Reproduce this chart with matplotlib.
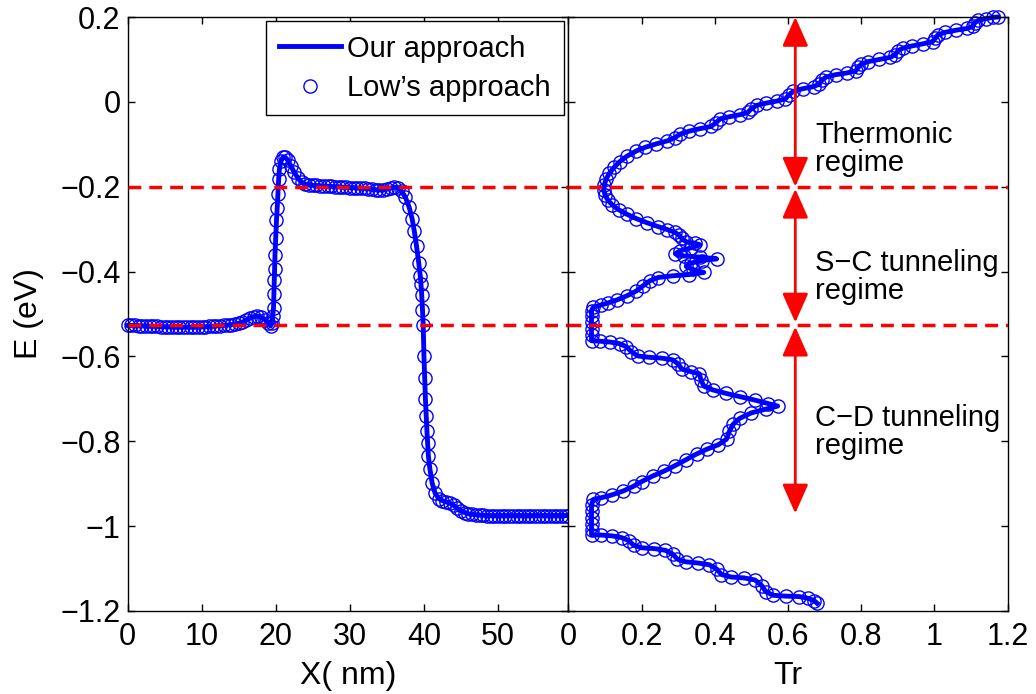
import matplotlib.pyplot as plt

plt.rcParams['font.family'] = ['Liberation Sans', 'DejaVu Sans']

# left panel: conduction band profile E(x)
x_nm = [0, 0.5, 1, 1.5, 2, 2.5, 3, 3.5, 4, 4.5, 5, 5.5, 6, 6.5, 7, 7.5, 8, 8.5, 9, 9.5,
        10, 10.5, 11, 11.5, 12, 12.5, 13, 13.5, 14, 14.5, 15, 15.5, 16, 16.5, 17, 17.5,
        18, 18.5, 19, 19.3, 19.5, 19.6, 19.7, 19.75, 19.8, 19.85, 19.9, 20.0, 20.1, 20.2,
        20.3, 20.4, 20.5, 20.7, 21.0, 21.3, 21.6, 22.0, 22.5, 23.0, 23.5, 24.0, 24.5, 25.0,
        25.5, 26, 26.5, 27, 27.5, 28, 28.5, 29, 29.5, 30, 30.5, 31, 31.5, 32, 32.5, 33,
        33.5, 34, 34.5, 35, 35.5, 36, 36.5, 37, 37.5, 38, 38.4, 38.7, 39.0, 39.3, 39.5,
        39.6, 39.7, 39.8, 39.9, 40.0, 40.1, 40.2, 40.3, 40.4, 40.5, 40.6, 40.8, 41.1, 41.5,
        42.0, 42.5, 43.0, 43.5, 44.0, 44.5, 45.0, 45.5, 46, 46.5, 47, 47.5, 48, 48.5, 49,
        49.5, 50, 50.5, 51, 51.5, 52, 52.5, 53, 53.5, 54, 54.5, 55, 55.5, 56, 56.5, 57,
        57.5, 58, 58.5, 59, 59.5]
e_band = [-0.527, -0.527, -0.527, -0.528, -0.528, -0.528, -0.529, -0.529, -0.529, -0.530,
          -0.530, -0.530, -0.530, -0.531, -0.531, -0.531, -0.531, -0.531, -0.531, -0.530,
          -0.530, -0.530, -0.529, -0.529, -0.528, -0.528, -0.527, -0.526, -0.525, -0.524,
          -0.522, -0.519, -0.515, -0.510, -0.506, -0.505, -0.507, -0.513, -0.522, -0.528,
          -0.522, -0.505, -0.485, -0.452, -0.420, -0.393, -0.360, -0.320, -0.279, -0.250,
          -0.216, -0.181, -0.158, -0.140, -0.130, -0.131, -0.137, -0.150, -0.166, -0.180,
          -0.189, -0.194, -0.196, -0.197, -0.197, -0.198, -0.198, -0.199, -0.199, -0.200,
          -0.200, -0.201, -0.201, -0.202, -0.202, -0.203, -0.203, -0.204, -0.205, -0.206,
          -0.207, -0.208, -0.208, -0.206, -0.203, -0.201, -0.203, -0.211, -0.225, -0.248,
          -0.275, -0.305, -0.340, -0.380, -0.410, -0.430, -0.455, -0.490, -0.525, -0.600,
          -0.650, -0.700, -0.740, -0.775, -0.805, -0.835, -0.865, -0.898, -0.922, -0.935,
          -0.940, -0.943, -0.946, -0.951, -0.958, -0.964, -0.968, -0.971, -0.972, -0.973,
          -0.974, -0.974, -0.975, -0.975, -0.975, -0.975, -0.975, -0.975, -0.975, -0.975,
          -0.975, -0.975, -0.975, -0.975, -0.975, -0.975, -0.975, -0.975, -0.975, -0.975,
          -0.975, -0.975, -0.975, -0.975, -0.975]

# right panel: transmission Tr(E)
tr = [1.175, 1.160, 1.140, 1.120, 1.110, 1.105, 1.090, 1.060, 1.030, 1.010, 1.003, 0.995,
      0.970, 0.940, 0.915, 0.900, 0.893, 0.880, 0.850, 0.820, 0.800, 0.792, 0.785, 0.760,
      0.730, 0.705, 0.692, 0.686, 0.670, 0.640, 0.615, 0.602, 0.593, 0.570, 0.540, 0.515,
      0.500, 0.490, 0.470, 0.440, 0.415, 0.403, 0.390, 0.360, 0.330, 0.305, 0.290, 0.270,
      0.240, 0.210, 0.185, 0.160, 0.140, 0.125, 0.112, 0.103, 0.098, 0.097, 0.100, 0.108,
      0.120, 0.137, 0.160, 0.185, 0.215, 0.245, 0.270, 0.290, 0.302, 0.310, 0.322, 0.345,
      0.360, 0.335, 0.305, 0.292, 0.315, 0.360, 0.405, 0.365, 0.335, 0.322, 0.340, 0.370,
      0.330, 0.285, 0.245, 0.222, 0.203, 0.185, 0.160, 0.132, 0.108, 0.088, 0.068, 0.063,
      0.063, 0.063, 0.063, 0.063, 0.063, 0.085, 0.113, 0.140, 0.158, 0.172, 0.190, 0.220,
      0.255, 0.285, 0.300, 0.310, 0.335, 0.358, 0.362, 0.370, 0.395, 0.430, 0.470, 0.510,
      0.545, 0.572, 0.540, 0.500, 0.468, 0.450, 0.440, 0.432, 0.410, 0.380, 0.350, 0.320,
      0.290, 0.262, 0.230, 0.200, 0.178, 0.150, 0.120, 0.090, 0.068, 0.063, 0.063, 0.063,
      0.063, 0.063, 0.063, 0.090, 0.120, 0.145, 0.165, 0.178, 0.200, 0.235, 0.265, 0.285,
      0.298, 0.320, 0.355, 0.385, 0.405, 0.418, 0.445, 0.480, 0.510, 0.528, 0.540, 0.560,
      0.595, 0.630, 0.655, 0.672, 0.680]
e_tr = [0.200, 0.199, 0.196, 0.192, 0.186, 0.178, 0.173, 0.169, 0.164, 0.158, 0.150, 0.142,
        0.137, 0.132, 0.127, 0.120, 0.111, 0.105, 0.100, 0.095, 0.089, 0.081, 0.073, 0.068,
        0.064, 0.059, 0.051, 0.042, 0.036, 0.031, 0.025, 0.016, 0.007, 0.002, -0.003, -0.008,
        -0.016, -0.025, -0.030, -0.035, -0.040, -0.049, -0.058, -0.063, -0.069, -0.076,
        -0.085, -0.092, -0.099, -0.107, -0.116, -0.128, -0.141, -0.154, -0.168, -0.182,
        -0.196, -0.208, -0.220, -0.232, -0.243, -0.254, -0.265, -0.275, -0.285, -0.294,
        -0.301, -0.307, -0.314, -0.322, -0.330, -0.333, -0.337, -0.344, -0.351, -0.358,
        -0.363, -0.366, -0.370, -0.374, -0.380, -0.388, -0.395, -0.402, -0.407, -0.410,
        -0.414, -0.422, -0.434, -0.446, -0.457, -0.467, -0.474, -0.479, -0.484, -0.492,
        -0.505, -0.520, -0.535, -0.550, -0.563, -0.564, -0.566, -0.570, -0.577, -0.589,
        -0.599, -0.602, -0.604, -0.608, -0.618, -0.630, -0.636, -0.641, -0.655, -0.670,
        -0.679, -0.687, -0.695, -0.703, -0.711, -0.717, -0.724, -0.733, -0.746, -0.760,
        -0.776, -0.795, -0.808, -0.818, -0.830, -0.844, -0.858, -0.870, -0.882, -0.895,
        -0.906, -0.917, -0.926, -0.933, -0.937, -0.950, -0.965, -0.980, -0.995, -1.010,
        -1.020, -1.021, -1.023, -1.027, -1.034, -1.045, -1.051, -1.053, -1.057, -1.066,
        -1.078, -1.084, -1.087, -1.091, -1.101, -1.114, -1.120, -1.122, -1.127, -1.140,
        -1.155, -1.163, -1.165, -1.166, -1.170, -1.176, -1.182]

# regime boundaries and labels
e_levels = [-0.2, -0.525]
regime_spans = [(0.2, -0.2), (-0.205, -0.52), (-0.53, -0.97)]
regime_text = ['Thermonic\nregime', 'S\u2212C tunneling\nregime', 'C\u2212D tunneling\nregime']
regime_text_y = [-0.112, -0.413, -0.779]

y_ticks = [0.2, 0, -0.2, -0.4, -0.6, -0.8, -1, -1.2]
y_labels = ['0.2', '0', '\u22120.2', '\u22120.4', '\u22120.6', '\u22120.8', '\u22121', '\u22121.2']
tr_ticks = [0, 0.2, 0.4, 0.6, 0.8, 1, 1.2]
tr_labels = ['0', '0.2', '0.4', '0.6', '0.8', '1', '1.2']

fig = plt.figure(figsize=(10.36, 6.94), dpi=100)
ax1 = fig.add_axes([0.1231, 0.1196, 0.4256, 0.8559])
ax2 = fig.add_axes([0.5487, 0.1196, 0.4238, 0.8559])

dash = (0, (3.7, 2.3))

ax1.plot(x_nm, e_band, '-', color='blue', lw=3.5, label='Our approach', clip_on=False)
ax1.plot(x_nm, e_band, 'o', mfc='none', mec='blue', ms=9.5, mew=1,
         label='Low\u2019s approach', clip_on=False)
ax2.plot(tr, e_tr, '-', color='blue', lw=3.5, clip_on=False)
ax2.plot(tr, e_tr, 'o', mfc='none', mec='blue', ms=9.5, mew=1, clip_on=False)

for ax in (ax1, ax2):
    for lev in e_levels:
        ax.axhline(lev, color='red', ls=dash, lw=2.5, zorder=3)
    ax.set_ylim(-1.2, 0.2)
    ax.set_yticks(y_ticks)
    ax.tick_params(direction='in', length=5, width=1, top=True, right=True,
                   labelsize=22)
    ax.tick_params(axis='x', pad=8)
    ax.tick_params(axis='y', pad=5)
    for s in ax.spines.values():
        s.set_linewidth(1)

ax1.set_xlim(0, 59.5)
ax1.set_xticks([0, 10, 20, 30, 40, 50])
ax1.set_yticklabels(y_labels)
ax1.set_xlabel('X( nm)', fontsize=23)
ax1.set_ylabel('E (eV)', fontsize=23)
ax1.xaxis.set_label_coords(0.5, -0.085)
ax1.yaxis.set_label_coords(-0.19, 0.5)

ax2.set_xlim(0, 1.2)
ax2.set_xticks(tr_ticks)
ax2.set_xticklabels(tr_labels)
ax2.set_yticklabels([])
ax2.set_xlabel('Tr', fontsize=23)
ax2.xaxis.set_label_coords(0.5, -0.085)

for (top, bot), txt, ty in zip(regime_spans, regime_text, regime_text_y):
    ax2.annotate('', xy=(0.62, top), xytext=(0.62, bot),
                 arrowprops=dict(arrowstyle='<|-|>,head_length=0.9,head_width=0.4',
                                 color='red', lw=2, shrinkA=0, shrinkB=0,
                                 mutation_scale=20))
    ax2.text(0.675, ty, txt, fontsize=21, va='center', ha='left', linespacing=1.0)

leg = ax1.legend(loc='upper right', fontsize=21, fancybox=False, edgecolor='black',
                 framealpha=1, borderaxespad=0.15, handlelength=2.15,
                 handletextpad=0.2, labelspacing=0.4, borderpad=0.45)
leg.get_frame().set_linewidth(1)

fig.savefig('out.png', dpi=100)
